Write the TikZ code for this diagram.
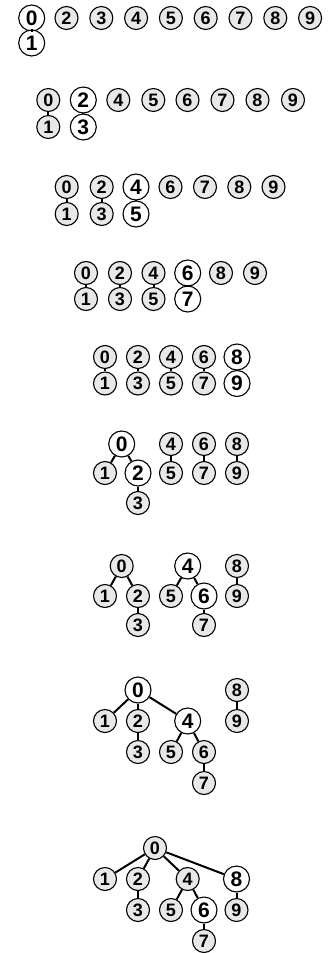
\documentclass[tikz,border=0pt]{standalone}
\usepackage{fontspec}
\setmainfont{Liberation Sans}[BoldFont={Liberation Sans Bold}]
\begin{document}
\begin{tikzpicture}[x=1pt,y=-1pt,
  gn/.style={circle,draw=black,line width=1.1pt,fill=gray!18,minimum size=23pt,inner sep=0pt,font=\bfseries\fontsize{18}{18}\selectfont},
  wn/.style={circle,draw=black,line width=1.1pt,fill=white,minimum size=26pt,inner sep=0pt,font=\bfseries\fontsize{21}{21}\selectfont},
  ed/.style={line width=2pt,black}]
\useasboundingbox (0,0) rectangle (328,953);
% Row 1
\node[wn] (a0) at (31.7,18) {0};
\node[wn] (a1) at (31.7,43) {1};
\node[gn] (a2) at (66.5,18) {2};
\node[gn] (a3) at (101.3,18) {3};
\node[gn] (a4) at (136.1,18) {4};
\node[gn] (a5) at (170.9,18) {5};
\node[gn] (a6) at (205.7,18) {6};
\node[gn] (a7) at (240.5,18) {7};
\node[gn] (a8) at (275.3,18) {8};
\node[gn] (a9) at (310.1,18) {9};
\draw[ed] (a0) -- (a1);
% Row 2
\node[gn] (b0) at (48.3,100) {0};
\node[gn] (b1) at (48.3,127) {1};
\node[wn] (b2) at (83.3,100) {2};
\node[wn] (b3) at (83.3,127) {3};
\node[gn] (b4) at (118.3,100) {4};
\node[gn] (b5) at (153.3,100) {5};
\node[gn] (b6) at (187.5,100) {6};
\node[gn] (b7) at (222.5,100) {7};
\node[gn] (b8) at (257.5,100) {8};
\node[gn] (b9) at (293,100) {9};
\draw[ed] (b0) -- (b1);
\draw[ed] (b2) -- (b3);
% Row 3
\node[gn] (c0) at (66.7,187) {0};
\node[gn] (c1) at (66.7,214) {1};
\node[gn] (c2) at (101.7,187) {2};
\node[gn] (c3) at (101.7,214) {3};
\node[wn] (c4) at (136,187) {4};
\node[wn] (c5) at (136,214) {5};
\node[gn] (c6) at (170.5,187) {6};
\node[gn] (c7) at (205,187) {7};
\node[gn] (c8) at (239.3,187) {8};
\node[gn] (c9) at (273.5,187) {9};
\draw[ed] (c0) -- (c1);
\draw[ed] (c2) -- (c3);
\draw[ed] (c4) -- (c5);
% Row 4
\node[gn] (d0) at (86,273) {0};
\node[gn] (d1) at (86,299) {1};
\node[gn] (d2) at (120,273) {2};
\node[gn] (d3) at (120,299) {3};
\node[gn] (d4) at (153.5,273) {4};
\node[gn] (d5) at (153.5,299) {5};
\node[wn] (d6) at (187.7,273) {6};
\node[wn] (d7) at (187.7,299) {7};
\node[gn] (d8) at (221,273) {8};
\node[gn] (d9) at (255,273) {9};
\draw[ed] (d0) -- (d1);
\draw[ed] (d2) -- (d3);
\draw[ed] (d4) -- (d5);
\draw[ed] (d6) -- (d7);
% Row 5
\node[gn] (e0) at (105,357) {0};
\node[gn] (e1) at (105,383.5) {1};
\node[gn] (e2) at (138,357) {2};
\node[gn] (e3) at (138,383.5) {3};
\node[gn] (e4) at (171,357) {4};
\node[gn] (e5) at (171,383.5) {5};
\node[gn] (e6) at (204,357) {6};
\node[gn] (e7) at (204,383.5) {7};
\node[wn] (e8) at (237,357) {8};
\node[wn] (e9) at (237,383.5) {9};
\draw[ed] (e0) -- (e1);
\draw[ed] (e2) -- (e3);
\draw[ed] (e4) -- (e5);
\draw[ed] (e6) -- (e7);
\draw[ed] (e8) -- (e9);
% Row 6
\node[wn] (f0) at (121.7,444) {0};
\node[gn] (f1) at (105,473) {1};
\node[wn] (f2) at (138,473) {2};
\node[gn] (f3) at (138,503) {3};
\node[gn] (f4) at (171,444) {4};
\node[gn] (f5) at (171,473) {5};
\node[gn] (f6) at (204,444) {6};
\node[gn] (f7) at (204,473) {7};
\node[gn] (f8) at (237,444) {8};
\node[gn] (f9) at (237,473) {9};
\draw[ed] (f0) -- (f1);
\draw[ed] (f0) -- (f2);
\draw[ed] (f2) -- (f3);
\draw[ed] (f4) -- (f5);
\draw[ed] (f6) -- (f7);
\draw[ed] (f8) -- (f9);
% Row 7
\node[gn] (g0) at (121.7,566) {0};
\node[gn] (g1) at (105,596) {1};
\node[gn] (g2) at (138,596) {2};
\node[gn] (g3) at (138,625) {3};
\node[wn] (g4) at (187.7,566) {4};
\node[gn] (g5) at (171,596) {5};
\node[wn] (g6) at (204,596) {6};
\node[gn] (g7) at (204,625) {7};
\node[gn] (g8) at (237,566) {8};
\node[gn] (g9) at (237,596) {9};
\draw[ed] (g0) -- (g1);
\draw[ed] (g0) -- (g2);
\draw[ed] (g2) -- (g3);
\draw[ed] (g4) -- (g5);
\draw[ed] (g4) -- (g6);
\draw[ed] (g6) -- (g7);
\draw[ed] (g8) -- (g9);
% Row 8
\node[wn] (h0) at (138,690) {0};
\node[gn] (h1) at (105,721) {1};
\node[gn] (h2) at (138,721) {2};
\node[gn] (h3) at (138,752) {3};
\node[wn] (h4) at (187.7,721) {4};
\node[gn] (h5) at (171,752) {5};
\node[gn] (h6) at (204,752) {6};
\node[gn] (h7) at (204,783) {7};
\node[gn] (h8) at (237,690) {8};
\node[gn] (h9) at (237,721) {9};
\draw[ed] (h0) -- (h1);
\draw[ed] (h0) -- (h2);
\draw[ed] (h0) -- (h4);
\draw[ed] (h2) -- (h3);
\draw[ed] (h4) -- (h5);
\draw[ed] (h4) -- (h6);
\draw[ed] (h6) -- (h7);
\draw[ed] (h8) -- (h9);
% Row 9
\node[gn] (i0) at (155,848) {0};
\node[gn] (i1) at (105,879) {1};
\node[gn] (i2) at (138,879) {2};
\node[gn] (i3) at (138,910) {3};
\node[gn] (i4) at (187.7,879) {4};
\node[gn] (i5) at (171,910) {5};
\node[wn] (i6) at (204,910) {6};
\node[gn] (i7) at (204,941) {7};
\node[wn] (i8) at (236.5,879) {8};
\node[gn] (i9) at (236.5,910) {9};
\draw[ed] (i0) -- (i1);
\draw[ed] (i0) -- (i2);
\draw[ed] (i0) -- (i4);
\draw[ed] (i0) -- (i8);
\draw[ed] (i2) -- (i3);
\draw[ed] (i4) -- (i5);
\draw[ed] (i4) -- (i6);
\draw[ed] (i6) -- (i7);
\draw[ed] (i8) -- (i9);
\end{tikzpicture}
\end{document}
